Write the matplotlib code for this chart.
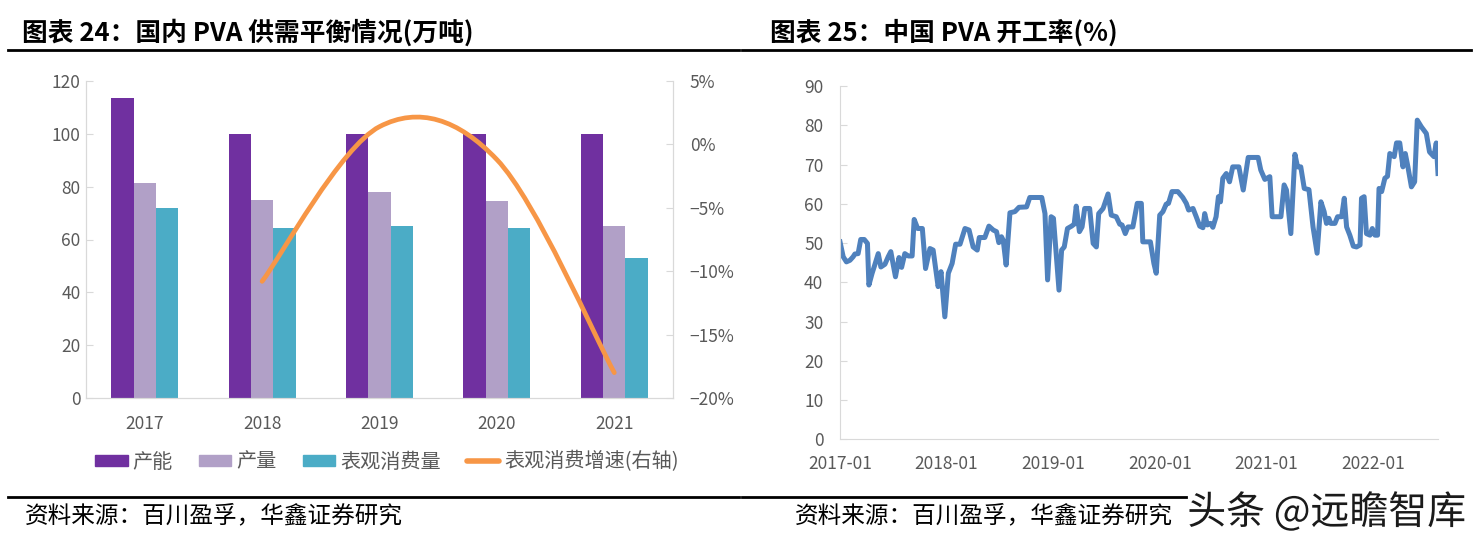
import numpy as np
import pandas as pd
import matplotlib
matplotlib.use("Agg")
import matplotlib.pyplot as plt
import matplotlib.dates as mdates
import matplotlib.patheffects as pe
from matplotlib.path import Path
from matplotlib.patches import PathPatch, Patch
from matplotlib.lines import Line2D
from matplotlib.ticker import FuncFormatter, MultipleLocator

plt.rcParams['font.family'] = ['Noto Sans CJK SC', 'DejaVu Sans']

# 图表24 data (万吨)
years = ['2017', '2018', '2019', '2020', '2021']
capacity = [113.4, 100.0, 100.0, 100.0, 100.0]
production = [81.3, 74.8, 78.1, 74.4, 65.2]
consumption = [72.0, 64.2, 65.1, 64.2, 52.9]
growth_years = ['2018', '2019', '2020', '2021']
growth = [-10.8, 1.4, -1.2, -18.0]

# 图表25 data: PVA operating rate (%)
rate_dates = [
    '2017-01-01', '2017-01-12', '2017-01-23', '2017-02-04', '2017-02-15', '2017-02-21',
    '2017-03-04', '2017-03-13', '2017-03-25', '2017-04-05', '2017-04-10', '2017-04-21',
    '2017-04-30', '2017-05-12', '2017-05-21', '2017-06-04', '2017-06-15', '2017-06-24',
    '2017-07-10', '2017-07-22', '2017-07-31', '2017-08-11', '2017-08-23', '2017-09-05',
    '2017-09-12', '2017-09-24', '2017-10-10', '2017-10-21', '2017-11-05', '2017-11-16',
    '2017-12-03', '2017-12-13', '2017-12-26', '2018-01-07', '2018-01-20', '2018-02-01',
    '2018-02-16', '2018-03-05', '2018-03-19', '2018-04-02', '2018-04-16', '2018-04-23',
    '2018-05-12', '2018-05-26', '2018-06-10', '2018-06-21', '2018-06-29', '2018-07-08',
    '2018-07-14', '2018-07-24', '2018-08-06', '2018-08-23', '2018-09-06', '2018-10-02',
    '2018-10-13', '2018-11-23', '2018-12-04', '2018-12-13', '2018-12-25', '2019-01-02',
    '2019-01-21', '2019-01-30', '2019-02-08', '2019-02-19', '2019-03-05', '2019-03-14',
    '2019-03-21', '2019-04-01', '2019-04-10', '2019-04-19', '2019-05-06', '2019-05-18',
    '2019-05-29', '2019-06-06', '2019-06-21', '2019-07-08', '2019-07-19', '2019-08-05',
    '2019-08-17', '2019-08-25', '2019-09-05', '2019-09-14', '2019-10-01', '2019-10-16',
    '2019-10-30', '2019-11-04', '2019-11-30', '2019-12-12', '2019-12-20', '2020-01-01',
    '2020-01-12', '2020-01-23', '2020-01-31', '2020-02-12', '2020-03-03', '2020-03-20',
    '2020-04-01', '2020-04-09', '2020-04-24', '2020-05-05', '2020-05-17', '2020-05-28',
    '2020-06-03', '2020-06-12', '2020-06-23', '2020-07-01', '2020-07-12', '2020-07-20',
    '2020-07-27', '2020-08-04', '2020-08-16', '2020-08-27', '2020-09-07', '2020-09-28',
    '2020-10-13', '2020-10-30', '2020-12-03', '2020-12-12', '2020-12-26', '2021-01-12',
    '2021-01-20', '2021-02-19', '2021-03-02', '2021-03-10', '2021-03-25', '2021-04-08',
    '2021-04-17', '2021-04-28', '2021-05-10', '2021-05-26', '2021-06-09', '2021-06-23',
    '2021-07-06', '2021-07-17', '2021-07-25', '2021-08-02', '2021-08-09', '2021-08-23',
    '2021-09-01', '2021-09-15', '2021-09-24', '2021-10-02', '2021-10-13', '2021-10-25',
    '2021-11-05', '2021-11-17', '2021-11-22', '2021-12-01', '2021-12-09', '2021-12-21',
    '2021-12-29', '2022-01-07', '2022-01-16', '2022-01-21', '2022-01-30', '2022-02-10',
    '2022-02-19', '2022-02-27', '2022-03-14', '2022-03-22', '2022-04-02', '2022-04-13',
    '2022-04-21', '2022-04-30', '2022-05-12', '2022-05-23', '2022-06-01', '2022-06-15',
    '2022-07-02', '2022-07-13', '2022-07-28', '2022-08-05', '2022-08-11',
]
rate_values = [
    50.3, 46.5, 45.2, 45.6, 46.5, 47.2,
    47.3, 50.9, 50.9, 49.9, 39.3, 42.3,
    44.4, 47.3, 43.9, 44.6, 46.5, 47.8,
    41.4, 46.3, 43.8, 47.3, 46.7, 46.7,
    56.0, 53.7, 53.7, 43.5, 48.6, 48.2,
    38.9, 42.7, 31.2, 42.3, 44.8, 49.7,
    49.7, 53.7, 53.3, 49.0, 48.2, 51.4,
    51.4, 54.3, 53.3, 52.9, 50.1, 51.6,
    50.7, 44.4, 57.7, 58.0, 59.1, 59.2,
    61.6, 61.6, 57.5, 40.6, 56.7, 56.3,
    38.0, 48.2, 49.0, 53.7, 54.3, 54.8,
    59.4, 52.9, 54.1, 58.8, 58.8, 49.9,
    49.0, 57.5, 58.8, 62.5, 57.1, 56.7,
    54.8, 54.6, 52.4, 54.1, 54.1, 60.1,
    60.1, 50.3, 50.3, 44.8, 42.3, 57.1,
    58.0, 59.9, 60.1, 63.1, 63.1, 61.6,
    60.1, 58.4, 58.8, 56.7, 54.3, 53.9,
    57.5, 54.6, 55.0, 54.0, 56.7, 61.8,
    60.5, 66.5, 67.7, 65.6, 69.4, 69.4,
    63.5, 71.8, 71.8, 68.6, 66.2, 66.9,
    56.7, 56.7, 64.8, 63.5, 52.4, 72.6,
    69.4, 69.4, 63.9, 63.6, 54.1, 47.4,
    60.5, 58.0, 55.0, 56.3, 55.0, 55.0,
    56.7, 56.7, 61.4, 54.1, 52.0, 49.2,
    49.0, 49.5, 61.4, 61.8, 52.4, 52.0,
    53.7, 52.0, 52.0, 63.9, 63.1, 66.5,
    67.0, 72.8, 72.0, 75.5, 75.5, 69.4,
    72.8, 69.4, 64.3, 65.6, 81.3, 79.6,
    77.9, 73.2, 72.0, 75.5, 67.7,
]

PURPLE = '#7030A0'
LAVENDER = '#B1A0C7'
TEAL = '#4BACC6'
ORANGE = '#F79646'
BLUE = '#4F81BD'
GRID = '#D9D9D9'
LABEL = '#595959'

W, H = 1476, 540


def fx(px):
    return px / W


def fy(py):
    return 1 - py / H


def smooth_path(xs, ys):
    # Excel-style smoothed line: Catmull-Rom segments as cubic Beziers
    pts = np.column_stack([xs, ys]).astype(float)
    n = len(pts)
    verts = [pts[0]]
    codes = [Path.MOVETO]
    for i in range(n - 1):
        p0 = pts[max(i - 1, 0)]
        p1 = pts[i]
        p2 = pts[i + 1]
        p3 = pts[min(i + 2, n - 1)]
        c1 = p1 + (p2 - p0) / 6
        c2 = p2 - (p3 - p1) / 6
        verts += [c1, c2, p2]
        codes += [Path.CURVE4] * 3
    return Path(verts, codes)


fig = plt.figure(figsize=(W / 100, H / 100), dpi=100)

# ---------------- left chart: supply / demand balance ----------------
ax1 = fig.add_axes([fx(86), fy(398), fx(673 - 86), (398 - 81) / H])
x = np.arange(len(years))
w = 0.19
ax1.bar(x - w, capacity, w, color=PURPLE, label='产能')
ax1.bar(x, production, w, color=LAVENDER, label='产量')
ax1.bar(x + w, consumption, w, color=TEAL, label='表观消费量')
ax1.set_xlim(-0.5, len(years) - 0.5)
ax1.set_ylim(0, 120)
ax1.yaxis.set_major_locator(MultipleLocator(20))
ax1.set_xticks(x)
ax1.set_xticklabels(years)

ax2 = ax1.twinx()
gx = [years.index(y) for y in growth_years]
ax2.add_patch(PathPatch(smooth_path(gx, growth), facecolor='none',
                        edgecolor=ORANGE, lw=3.4, capstyle='round'))
ax2.set_ylim(-20, 5)
ax2.yaxis.set_major_locator(MultipleLocator(5))
ax2.yaxis.set_major_formatter(FuncFormatter(
    lambda v, p: f'{v:.0f}%'.replace('-', '\u2212')))

for a in (ax1, ax2):
    for s in a.spines.values():
        s.set_color(GRID)
    a.spines['top'].set_visible(False)
ax1.tick_params(axis='y', direction='in', length=5, color=GRID,
                labelcolor=LABEL, labelsize=12.5, pad=4)
ax1.tick_params(axis='x', length=0, labelcolor=LABEL, labelsize=12.5, pad=12)
ax2.tick_params(axis='y', direction='in', length=5, color=GRID,
                labelcolor=LABEL, labelsize=12.5, pad=12)

handles = [Patch(color=PURPLE), Patch(color=LAVENDER), Patch(color=TEAL),
           Line2D([], [], color=ORANGE, lw=4, solid_capstyle='round')]
labels = ['产能', '产量', '表观消费量', '表观消费增速(右轴)']
fig.legend(handles, labels, loc='center', bbox_to_anchor=(fx(387), fy(462)),
           ncol=4, frameon=False, fontsize=14.5, labelcolor=LABEL,
           handlelength=1.6, handleheight=0.45, handletextpad=0.25,
           columnspacing=1.3)

# ---------------- right chart: operating rate ----------------
ax3 = fig.add_axes([fx(840), fy(439.3), fx(1438 - 840), (439.3 - 86) / H])
dates = pd.to_datetime(rate_dates)
ax3.plot(dates, rate_values, color=BLUE, lw=3.6, solid_joinstyle='round')
ax3.set_xlim(dates[0], dates[-1])
ax3.set_ylim(0, 90)
ax3.yaxis.set_major_locator(MultipleLocator(10))
ax3.xaxis.set_major_locator(mdates.YearLocator())
ax3.xaxis.set_major_formatter(mdates.DateFormatter('%Y-%m'))
for s in ('top', 'right'):
    ax3.spines[s].set_visible(False)
for s in ('left', 'bottom'):
    ax3.spines[s].set_color(GRID)
ax3.tick_params(axis='y', direction='in', length=5, color=GRID,
                labelcolor=LABEL, labelsize=12.5, pad=12)
ax3.tick_params(axis='x', length=0, labelcolor=LABEL, labelsize=12.5, pad=11)

# ---------------- titles, rules, sources ----------------
fig.text(fx(22), fy(33), '图表 24：国内 PVA 供需平衡情况(万吨)',
         fontsize=18.5, fontweight='bold', va='center', ha='left')
fig.text(fx(770), fy(33), '图表 25：中国 PVA 开工率(%)',
         fontsize=18.5, fontweight='bold', va='center', ha='left')
for x0, x1, yy in [(8, 739, 50), (742, 1471, 50), (8, 739, 497), (742, 1186, 497)]:
    fig.add_artist(Line2D([fx(x0), fx(x1)], [fy(yy), fy(yy)],
                          color='black', lw=2))
fig.text(fx(25), fy(516), '资料来源：百川盈孚，华鑫证券研究',
         fontsize=17, va='center', ha='left')
fig.text(fx(795), fy(516), '资料来源：百川盈孚，华鑫证券研究',
         fontsize=17, va='center', ha='left')
fig.text(fx(1466), fy(513), '头条 @远瞻智库', fontsize=28, va='center',
         ha='right', color='#1a1a1a',
         path_effects=[pe.withStroke(linewidth=3, foreground='white')])

fig.savefig('out.png', dpi=100)
